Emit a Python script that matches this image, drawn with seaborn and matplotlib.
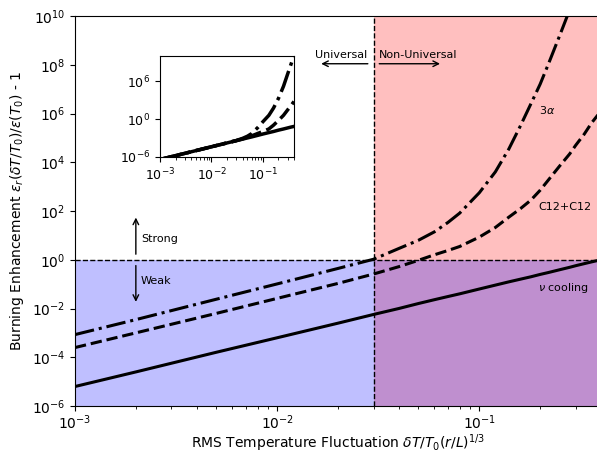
import numpy as np
import pandas as pd
import matplotlib
matplotlib.use("Agg")
import matplotlib.pyplot as plt
import seaborn as sns
from matplotlib.ticker import NullLocator, LogLocator

# ================= DATA =================
x_main = [0.001, 0.002, 0.005, 0.01, 0.02, 0.03, 0.04, 0.05, 0.06, 0.07, 0.08,
          0.1, 0.12, 0.14, 0.16, 0.18, 0.2, 0.22, 0.25, 0.28, 0.3, 0.33, 0.36, 0.4]

nu_cooling = [6.3e-6, 2.5e-5, 1.6e-4, 6.3e-4, 2.5e-3, 5.7e-3, 1.0e-2, 1.6e-2, 2.3e-2,
              3.1e-2, 4.0e-2, 6.3e-2, 9.1e-2, 0.124, 0.16, 0.2, 0.25, 0.3, 0.39,
              0.49, 0.57, 0.69, 0.82, 1.0]

c12_c12 = [2.5e-4, 1.0e-3, 6.3e-3, 2.6e-2, 0.107, 0.26, 0.52, 0.95, 1.6, 2.4, 3.5,
           8.5, 21, 56, 126, 280, 710, 1.9e3, 7.1e3, 2.2e4, 5.0e4, 1.4e5, 4.2e5, 1.26e6]

x_3alpha = x_main[:21]
triple_alpha = [8.5e-4, 3.5e-3, 2.4e-2, 0.102, 0.44, 1.05, 2.9, 6.3, 14, 34, 82,
                560, 4.0e3, 3.5e4, 3.2e5, 2.5e6, 1.6e7, 1.1e8, 1.6e9, 1.8e10, 8e10]

# inset curves
x_inset = [0.001, 0.01, 0.03, 0.04, 0.05, 0.06, 0.08, 0.1, 0.13, 0.16, 0.2,
           0.25, 0.3, 0.35, 0.4]
inset_nu = [4e-7, 4.2e-5, 3.8e-4, 6.8e-4, 1.05e-3, 1.5e-3, 2.75e-3, 4.4e-3, 7.4e-3,
            1.1e-2, 1.8e-2, 2.75e-2, 4e-2, 5.5e-2, 7e-2]
inset_c12 = [4e-7, 4.2e-5, 3.8e-4, 7.1e-4, 1.26e-3, 2.2e-3, 5.6e-3, 1.1e-2, 2.8e-2,
             0.11, 0.63, 4, 28, 140, 630]
inset_3a = [4e-7, 4.2e-5, 4e-4, 8.9e-4, 2e-3, 5e-3, 0.05, 0.4, 4, 56, 2e3, 1.6e5,
            1.3e7, 5e8, 1.3e10]

X_SPLIT = 0.03   # universal / non-universal boundary
Y_SPLIT = 1.0    # weak / strong boundary
XLIM = (1e-3, 0.4)
YLIM = (1e-6, 1e10)

# ================= FIGURE =================
fig = plt.figure(figsize=(5.97, 4.53), dpi=100)
ax = fig.add_axes([75 / 597, 1 - 406 / 453, 526 / 597, 390 / 453])
ax.set(xscale="log", yscale="log")

ax.axvspan(X_SPLIT, XLIM[1], color="red", alpha=0.25, lw=0)
ax.axhspan(YLIM[0], Y_SPLIT, color="blue", alpha=0.25, lw=0)
ax.axvline(X_SPLIT, color="k", ls="--", lw=1)
ax.axhline(Y_SPLIT, color="k", ls="--", lw=1)

sns.lineplot(x=x_main, y=nu_cooling, ax=ax, color="k", lw=2.2, linestyle="-")
sns.lineplot(x=x_main, y=c12_c12, ax=ax, color="k", lw=2.2, linestyle="--")
sns.lineplot(x=x_3alpha, y=triple_alpha, ax=ax, color="k", lw=2.2, linestyle="-.")

ax.set_xlim(*XLIM)
ax.set_ylim(*YLIM)
ax.set_yticks([10.0 ** k for k in range(-6, 11, 2)])
ax.yaxis.set_minor_locator(NullLocator())
ax.tick_params(axis="x", pad=2)
ax.set_xlabel(r"RMS Temperature Fluctuation $\delta T/T_0(r/L)^{1/3}$", labelpad=0)
ax.set_ylabel(r"Burning Enhancement $\varepsilon_r(\delta T/T_0)/\varepsilon(T_0)$ - 1")

# ---- annotations ----
arr = dict(arrowstyle="->", color="k", lw=1)
ax.annotate("", xy=(0.016, 1.1e8), xytext=(0.029, 1.1e8), arrowprops=arr)
ax.annotate("", xy=(0.066, 1.1e8), xytext=(0.031, 1.1e8), arrowprops=arr)
ax.text(0.028, 2.5e8, "Universal", fontsize=8, ha="right", va="center")
ax.text(0.032, 2.5e8, "Non-Universal", fontsize=8, ha="left", va="center")

ax.annotate("", xy=(0.002, 70), xytext=(0.002, 1.3), arrowprops=arr)
ax.annotate("", xy=(0.002, 0.0144), xytext=(0.002, 0.75), arrowprops=arr)
ax.text(0.00212, 7.2, "Strong", fontsize=8, ha="left", va="center")
ax.text(0.00212, 0.138, "Weak", fontsize=8, ha="left", va="center")

ax.text(0.198, 1.4e6, r"$3\alpha$", fontsize=8, ha="left", va="center")
ax.text(0.196, 148, "C12+C12", fontsize=8, ha="left", va="center")
ax.text(0.196, 0.071, r"$\nu$ cooling", fontsize=8, ha="left", va="center")

# ================= INSET =================
axin = fig.add_axes([160 / 597, 1 - 157 / 453, 134 / 597, 101 / 453])
axin.set(xscale="log", yscale="log")
sns.lineplot(x=x_inset, y=inset_nu, ax=axin, color="k", lw=2.5, linestyle="-")
sns.lineplot(x=x_inset, y=inset_c12, ax=axin, color="k", lw=2.5, linestyle="--")
sns.lineplot(x=x_inset, y=inset_3a, ax=axin, color="k", lw=2.5, linestyle="-.")
axin.set_xlim(*XLIM)
axin.set_ylim(*YLIM)
axin.set_yticks([1e-6, 1e0, 1e6])
axin.yaxis.set_minor_locator(NullLocator())
axin.set_xticks([1e-3, 1e-2, 1e-1])
axin.xaxis.set_minor_locator(LogLocator(subs=np.arange(2, 10)))
axin.tick_params(labelsize=9)
axin.set_xlabel("")
axin.set_ylabel("")

fig.savefig("out.png", dpi=100)
plt.close(fig)
